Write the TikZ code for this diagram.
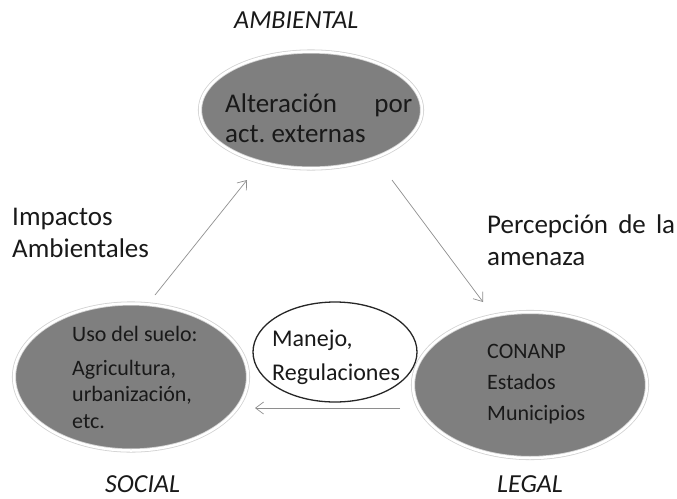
\documentclass[tikz,border=0pt]{standalone}
\usepackage{fontspec}
\setmainfont{Carlito}
\usetikzlibrary{shapes.geometric,arrows.meta}
\definecolor{ovalgray}{HTML}{7F7F7F}
\definecolor{arrowgray}{HTML}{8E8E8E}
\tikzset{
  oval/.style={ellipse, inner sep=0pt, fill=ovalgray, draw=gray!35, line width=0.8pt, double=white, double distance=2.5pt},
  whiteoval/.style={ellipse, inner sep=0pt, fill=white, draw=black!85, line width=1.3pt},
  txt/.style={inner sep=0pt, anchor=base west, align=left, text=black!90},
  lbl/.style={inner sep=0pt, anchor=base west, text=black!90, font=\fontsize{26}{30}\selectfont\itshape},
  conn/.style={draw=arrowgray, line width=0.7pt, -{Straight Barb[length=8pt,width=12pt]}}
}
\begin{document}
\begin{tikzpicture}[x=1pt,y=-1pt]
\useasboundingbox (0,0) rectangle (677,498);
% ovals
\node[oval, minimum width=222pt, minimum height=117pt] (amb) at (311,110) {};
\node[oval, minimum width=234pt, minimum height=147pt] (soc) at (131,377) {};
\node[oval, minimum width=234pt, minimum height=146pt] (leg) at (530,385) {};
\node[whiteoval, minimum width=164pt, minimum height=100pt] (man) at (335,352) {};
% texts in ovals (anchor = baseline of the last line)
\node[txt, font=\fontsize{27}{30}\selectfont] (ambtxt) at (225,142) {\makebox[187pt][s]{Alteración por}\\act.\ externas};
\node[txt, font=\fontsize{22}{26.5}\selectfont] (soctxt) at (72,428) {Uso del suelo:\\[7pt]Agricultura,\\urbanización,\\etc.};
\node[txt, font=\fontsize{22}{31}\selectfont] (legtxt) at (487,420) {CONANP\\Estados\\Municipios};
\node[txt, font=\fontsize{24}{34}\selectfont] (mantxt) at (272,380) {Manejo,\\Regulaciones};
% labels
\node[lbl] (ambl) at (234,28) {AMBIENTAL};
\node[lbl] (socl) at (105,492) {SOCIAL};
\node[lbl] (legl) at (497,492) {LEGAL};
\node[txt, font=\fontsize{27}{32}\selectfont] (imp) at (12,257) {Impactos\\Ambientales};
\node[txt, font=\fontsize{27}{32}\selectfont] (per) at (487,265) {\makebox[188pt][s]{Percepción de la}\\amenaza};
% connectors
\coordinate (s1) at (155,295);
\coordinate (e1) at (247,180);
\coordinate (s2) at (392,180);
\coordinate (e2) at (483,302);
\coordinate (s3) at (400,408);
\coordinate (e3) at (255,408);
\draw[conn] (s1) -- (e1);
\draw[conn] (s2) -- (e2);
\draw[conn] (s3) -- (e3);
\end{tikzpicture}
\end{document}
